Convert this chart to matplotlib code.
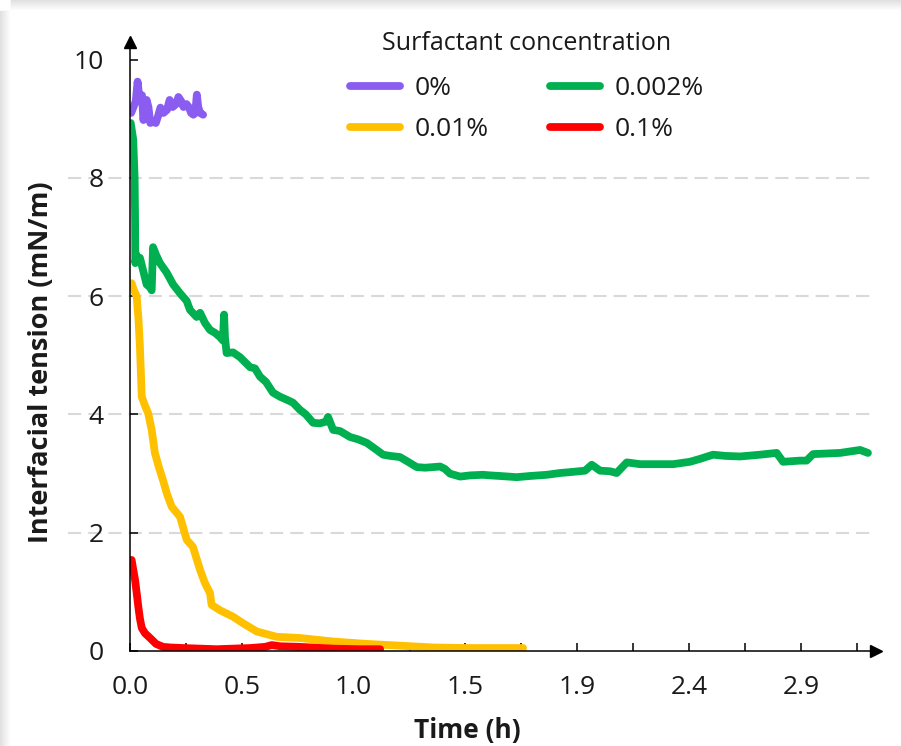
import numpy as np
import matplotlib.pyplot as plt
from matplotlib.patches import Rectangle

plt.rcParams['font.family'] = ['Open Sans', 'DejaVu Sans']

# 表面活性剂浓度 -> 界面张力随时间变化
t_0 = [0.005, 0.015, 0.025, 0.033, 0.038, 0.045, 0.052, 0.058, 0.064, 0.072, 0.08, 0.088,
       0.1, 0.112, 0.122, 0.132, 0.145, 0.16, 0.172, 0.185, 0.2, 0.21, 0.222, 0.232,
       0.245, 0.255, 0.265, 0.275, 0.283, 0.29, 0.296, 0.304, 0.317]
v_0 = [9.1, 9.2, 9.3, 9.63, 9.45, 9.3, 9.4, 8.98, 9.1, 9.32, 9.2, 8.93,
       8.95, 8.93, 9.05, 9.19, 9.1, 9.15, 9.32, 9.2, 9.25, 9.37, 9.3, 9.2,
       9.25, 9.2, 9.1, 9.07, 9.1, 9.41, 9.2, 9.1, 9.07]

t_0002 = [0.003, 0.014, 0.020, 0.022, 0.023, 0.028, 0.035, 0.043, 0.056, 0.072, 0.087, 0.094,
          0.100, 0.113, 0.130, 0.159, 0.187, 0.217, 0.246, 0.260, 0.289, 0.304, 0.325, 0.347,
          0.369, 0.390, 0.403, 0.408, 0.412, 0.419, 0.447, 0.477, 0.521, 0.542, 0.564, 0.590,
          0.620, 0.651, 0.680, 0.707, 0.737, 0.763, 0.794, 0.824, 0.850, 0.859, 0.881, 0.911,
          0.954, 0.989, 1.027, 1.063, 1.098, 1.128, 1.171, 1.206, 1.244, 1.280, 1.314, 1.345,
          1.366, 1.388, 1.432, 1.475, 1.531, 1.562, 1.605, 1.678, 1.735, 1.808, 1.865, 1.922,
          1.974, 2.003, 2.039, 2.082, 2.111, 2.155, 2.212, 2.299, 2.356, 2.429, 2.473, 2.529,
          2.581, 2.646, 2.733, 2.805, 2.833, 2.906, 2.935, 2.963, 3.080, 3.167, 3.201]
v_0002 = [8.93, 8.65, 8.0, 7.3, 6.56, 6.7, 6.6, 6.65, 6.45, 6.2, 6.15, 6.1,
          6.83, 6.7, 6.56, 6.4, 6.2, 6.05, 5.92, 5.77, 5.65, 5.72, 5.55, 5.43,
          5.38, 5.31, 5.25, 5.69, 5.3, 5.04, 5.05, 4.97, 4.8, 4.78, 4.64, 4.55,
          4.37, 4.3, 4.25, 4.2, 4.08, 4.0, 3.86, 3.85, 3.88, 3.96, 3.74, 3.72,
          3.62, 3.58, 3.52, 3.42, 3.32, 3.3, 3.28, 3.2, 3.11, 3.1, 3.11, 3.12,
          3.08, 3.0, 2.95, 2.97, 2.98, 2.97, 2.96, 2.94, 2.96, 2.98, 3.01, 3.03,
          3.05, 3.15, 3.05, 3.04, 3.01, 3.19, 3.16, 3.16, 3.16, 3.2, 3.25, 3.32,
          3.3, 3.29, 3.32, 3.35, 3.2, 3.22, 3.22, 3.33, 3.35, 3.4, 3.35]

t_001 = [0.007, 0.017, 0.029, 0.037, 0.043, 0.051, 0.065, 0.079, 0.094, 0.108, 0.126, 0.143,
         0.161, 0.181, 0.200, 0.217, 0.246, 0.273, 0.304, 0.325, 0.347, 0.354, 0.390, 0.447,
         0.490, 0.550, 0.636, 0.737, 0.881, 1.027, 1.171, 1.314, 1.461, 1.605, 1.705]
v_001 = [6.22, 6.1, 6.0, 5.6, 5.15, 4.3, 4.15, 4.02, 3.74, 3.35, 3.1, 2.89,
         2.65, 2.44, 2.35, 2.27, 1.88, 1.76, 1.37, 1.15, 0.98, 0.78, 0.69, 0.58,
         0.47, 0.33, 0.24, 0.22, 0.16, 0.12, 0.09, 0.06, 0.05, 0.05, 0.05]

t_01 = [0.007, 0.013, 0.022, 0.030, 0.036, 0.043, 0.051, 0.065, 0.087, 0.113, 0.143, 0.174,
        0.230, 0.304, 0.376, 0.447, 0.521, 0.586, 0.615, 0.651, 0.737, 0.881, 0.998, 1.085]
v_01 = [1.54, 1.4, 1.2, 0.95, 0.75, 0.55, 0.39, 0.3, 0.22, 0.12, 0.07, 0.06,
        0.05, 0.04, 0.03, 0.04, 0.05, 0.07, 0.10, 0.08, 0.07, 0.04, 0.03, 0.03]

x_tick_labels = ['0.0', '0.5', '1.0', '1.5', '1.9', '2.4', '2.9']
x_tick_step = 0.485

fig = plt.figure(figsize=(9.01, 7.46), dpi=100)

# 左上角的阴影边
for i in range(11):
    g = 0.88 + 0.012 * i
    fig.patches.append(Rectangle((i / 901, 0), 1 / 901, 1 - 11 / 746, transform=fig.transFigure,
                                 color=(g, g, g), zorder=0))
    fig.patches.append(Rectangle((11 / 901, 1 - (i + 1) / 746), 1, 1 / 746, transform=fig.transFigure,
                                 color=(g, g, g), zorder=0))

ax = fig.add_axes([130 / 901, 95 / 746, 746 / 901, 609 / 746])
ax.set_facecolor('none')

lw = 5.6
ax.plot(t_0, v_0, color='#8B5CF0', lw=lw, solid_capstyle='round', solid_joinstyle='round', label='0%', zorder=3)
ax.plot(t_0002, v_0002, color='#00B050', lw=lw, solid_capstyle='round', solid_joinstyle='round', label='0.002%', zorder=3)
ax.plot(t_001, v_001, color='#FFC000', lw=lw, solid_capstyle='round', solid_joinstyle='round', label='0.01%', zorder=3)
ax.plot(t_01, v_01, color='#FF0000', lw=lw, solid_capstyle='round', solid_joinstyle='round', label='0.1%', zorder=4)

ax.set_xlim(0, 3.236)
ax.set_ylim(0, 10.3)

ax.hlines([2, 4, 6, 8], -0.083, 0.992, transform=ax.get_yaxis_transform(), colors='#D9D9D9',
          lw=1.5, linestyles=(0, (6.3, 3.4)), clip_on=False, zorder=1)

for s in ['top', 'right']:
    ax.spines[s].set_visible(False)
for s in ['left', 'bottom']:
    ax.spines[s].set_linewidth(1.1)
    ax.spines[s].set_zorder(5)
ax.plot(1, 0, '>k', ms=9, transform=ax.transAxes, clip_on=False)
ax.plot(0, 1, '^k', ms=9, transform=ax.transAxes, clip_on=False)

major = [i * x_tick_step for i in range(len(x_tick_labels))]
minor = [(i + 0.5) * x_tick_step for i in range(len(x_tick_labels))]
ax.set_xticks(major)
ax.set_xticklabels(x_tick_labels)
ax.set_xticks(minor, minor=True)
ax.set_yticks([0, 2, 4, 6, 8, 10])
ax.tick_params(axis='both', which='both', direction='in', width=1.1, colors='black', labelcolor='#1a1a1a')
ax.tick_params(axis='x', which='major', length=6, pad=17, labelsize=19)
ax.tick_params(axis='x', which='minor', length=5.5)
ax.tick_params(axis='y', which='major', length=5.5, pad=19, labelsize=19)

ax.set_xlabel('Time (h)', fontsize=19, fontweight='bold', color='#1a1a1a')
ax.xaxis.set_label_coords(0.452, -0.108)
ax.set_ylabel('Interfacial tension (mN/m)', fontsize=19.5, fontweight='bold', color='#1a1a1a')
ax.yaxis.set_label_coords(-0.102, 0.475)

fig.text(527 / 901, 1 - 43 / 746, 'Surfactant concentration', fontsize=18, color='#1a1a1a',
         ha='center', va='center')
h, l = ax.get_legend_handles_labels()
order = [0, 2, 1, 3]
leg = ax.legend([h[i] for i in order], [l[i] for i in order], ncol=2, frameon=False,
                fontsize=19, loc='upper center', bbox_to_anchor=(527 / 901, 1 - 76 / 746),
                bbox_transform=fig.transFigure, handlelength=1.9, handletextpad=0.55,
                columnspacing=2.3, labelspacing=0.6, borderaxespad=0, borderpad=0)
for t in leg.get_texts():
    t.set_color('#1a1a1a')

fig.savefig('out.png', dpi=100)
